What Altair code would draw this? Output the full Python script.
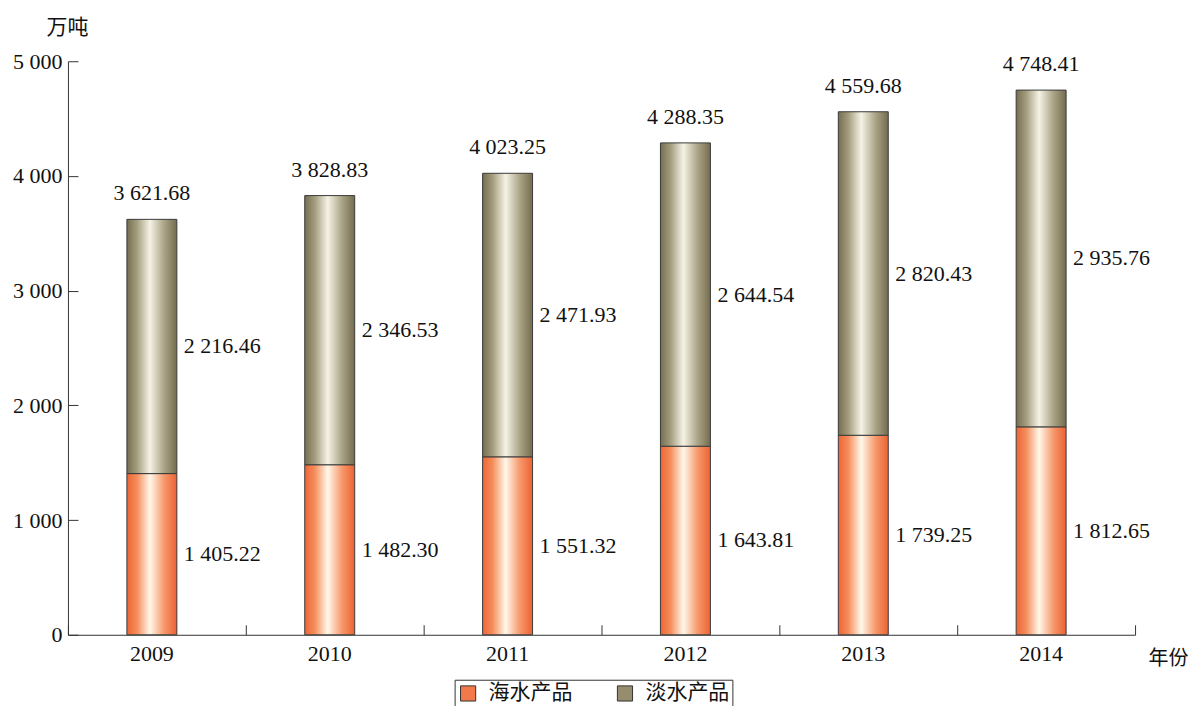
import altair as alt
import pandas as pd

years = ["2009", "2010", "2011", "2012", "2013", "2014"]
sea = [1405.22, 1482.30, 1551.32, 1643.81, 1739.25, 1812.65]
fresh = [2216.46, 2346.53, 2471.93, 2644.54, 2820.43, 2935.76]
totals = [3621.68, 3828.83, 4023.25, 4288.35, 4559.68, 4748.41]
series = ["海水产品", "淡水产品"]
y_ticks = [0, 1000, 2000, 3000, 4000, 5000]


def fmt(v):
    return f"{v:,.2f}".replace(",", " ")


df = pd.DataFrame({
    "year": years,
    "sea": sea,
    "fresh": fresh,
    "total": totals,
})
df["sea_mid"] = df["sea"] / 2
df["fresh_mid"] = df["sea"] + df["fresh"] / 2
df["sea_lbl"] = [fmt(v) for v in sea]
df["fresh_lbl"] = [fmt(v) for v in fresh]
df["total_lbl"] = [fmt(v) for v in totals]

legend_df = pd.DataFrame({"type": series})

W, H = 1068, 574
NUM_FONT = "Liberation Serif, Noto Sans CJK SC"
CJK_FONT = "Noto Sans CJK SC, Liberation Serif"
AX = "#333333"

xscale = alt.Scale(domain=years, paddingInner=0, paddingOuter=0)
yscale = alt.Scale(domain=[0, 5000], nice=False, zero=True)

orange = alt.LinearGradient(
    gradient="linear", x1=0, y1=0, x2=1, y2=0,
    stops=[
        alt.GradientStop(offset=0, color="#EE6536"),
        alt.GradientStop(offset=0.2, color="#F58D5B"),
        alt.GradientStop(offset=0.46, color="#FFF8EA"),
        alt.GradientStop(offset=0.75, color="#F6976A"),
        alt.GradientStop(offset=1, color="#EC6232"),
    ],
)
olive = alt.LinearGradient(
    gradient="linear", x1=0, y1=0, x2=1, y2=0,
    stops=[
        alt.GradientStop(offset=0, color="#756E50"),
        alt.GradientStop(offset=0.2, color="#A39C7D"),
        alt.GradientStop(offset=0.46, color="#F5F3E6"),
        alt.GradientStop(offset=0.75, color="#A9A284"),
        alt.GradientStop(offset=1, color="#746C4F"),
    ],
)

base = alt.Chart(df)

sea_bars = base.mark_bar(size=50, xOffset=-5, fill=orange, stroke="#3a3a3a", strokeWidth=1).encode(
    x=alt.X("year:N", scale=xscale, sort=years,
            axis=alt.Axis(title="年份", ticks=False, domain=True, domainColor=AX,
                          labelFont=NUM_FONT, labelFontSize=22, labelColor="#111",
                          labelPadding=9, labelOffset=-5, labelAngle=0,
                          titleFont=CJK_FONT, titleFontSize=20, titleFontWeight="normal",
                          titleColor="#111", titleX=W + 13, titleY=24,
                          titleAlign="left", titleBaseline="middle")),
    y=alt.Y("sea:Q", scale=yscale,
            axis=alt.Axis(title="万吨", values=y_ticks, ticks=False, grid=False,
                          domain=True, domainColor=AX,
                          labelExpr="replace(format(datum.value, ','), ',', ' ')",
                          labelFont=NUM_FONT, labelFontSize=22, labelColor="#111",
                          labelPadding=6,
                          titleFont=CJK_FONT, titleFontSize=21, titleFontWeight="normal",
                          titleColor="#111", titleAngle=0, titleX=-1, titleY=-34,
                          titleAlign="center", titleBaseline="middle")),
)

fresh_bars = base.mark_bar(size=50, xOffset=-5, fill=olive, stroke="#3a3a3a", strokeWidth=1).encode(
    x=alt.X("year:N", scale=xscale, sort=years,
            axis=alt.Axis(orient="top", offset=-H, labels=False, domain=False, title=None,
                          ticks=True, tickBand="extent", tickSize=10, tickColor=AX)),
    y=alt.Y("sea:Q", scale=yscale,
            axis=alt.Axis(orient="right", offset=-W, values=y_ticks, labels=False,
                          domain=False, grid=False, title=None, ticks=True,
                          tickSize=10, tickColor=AX)),
    y2="total:Q",
)

text_style = dict(font=NUM_FONT, fontSize=22, color="#111")

total_text = base.mark_text(dx=-5, dy=-26, baseline="middle", align="center", **text_style).encode(
    x=alt.X("year:N", scale=xscale, sort=years, axis=None),
    y=alt.Y("total:Q", scale=yscale, axis=None),
    text="total_lbl:N",
)
sea_text = base.mark_text(dx=27, baseline="middle", align="left", **text_style).encode(
    x=alt.X("year:N", scale=xscale, sort=years, axis=None),
    y=alt.Y("sea_mid:Q", scale=yscale, axis=None),
    text="sea_lbl:N",
)
fresh_text = base.mark_text(dx=27, baseline="middle", align="left", **text_style).encode(
    x=alt.X("year:N", scale=xscale, sort=years, axis=None),
    y=alt.Y("fresh_mid:Q", scale=yscale, axis=None),
    text="fresh_lbl:N",
)

legend_layer = alt.Chart(legend_df).mark_point(filled=True, size=0, opacity=0).encode(
    color=alt.Color("type:N",
                    scale=alt.Scale(domain=series, range=["#F27A4A", "#958D6D"]),
                    legend=alt.Legend(title=None, orient="none", legendX=387, legendY=619,
                                      direction="horizontal", padding=3,
                                      strokeColor=AX, fillColor="white",
                                      symbolType="square", symbolSize=230,
                                      symbolStrokeColor=AX, symbolStrokeWidth=1,
                                      symbolOpacity=1,
                                      labelFont=CJK_FONT, labelFontSize=21,
                                      labelColor="#111", labelOffset=10,
                                      columnPadding=42)),
)

chart = alt.layer(
    sea_bars, fresh_bars, total_text, sea_text, fresh_text, legend_layer
).resolve_axis(x="independent", y="independent").properties(
    width=W, height=H,
    autosize=alt.AutoSizeParams(type="none"),
    padding={"left": 60, "top": 53, "right": 58, "bottom": 71},
    background="white",
).configure_view(stroke=None)

chart.save("out.html", embed_options={"renderer": "svg", "actions": False})
